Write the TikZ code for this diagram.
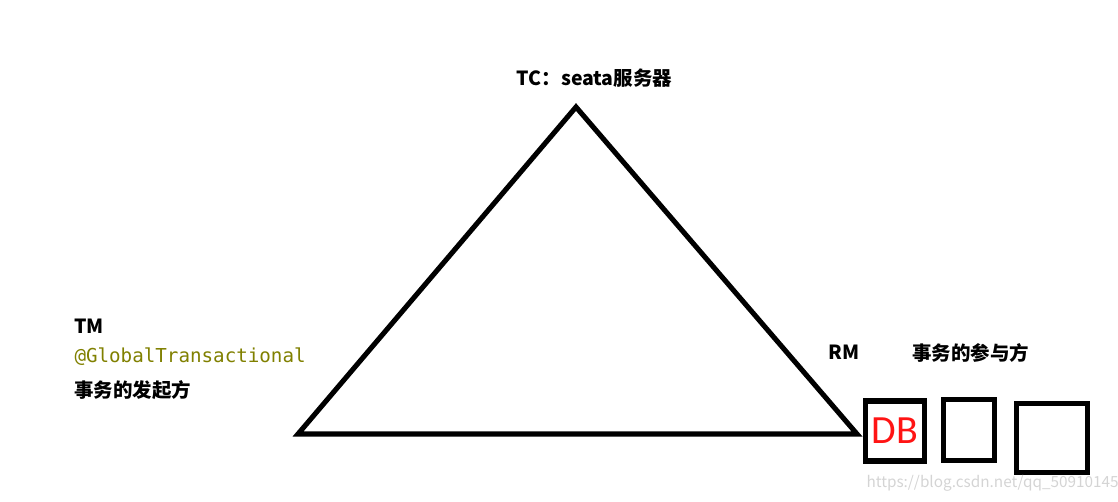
\documentclass[tikz,border=0pt]{standalone}
\usepackage{fontspec}
\setmainfont{Noto Sans CJK SC}
\newfontfamily\codefont{DejaVu Sans Mono}
\newfontfamily\dbfont{Carlito}
\definecolor{annotcol}{RGB}{128,128,0}
\definecolor{dbred}{RGB}{255,20,20}
\definecolor{markgray}{RGB}{212,212,212}

\tikzset{every picture/.style={line width=0.75pt}}
\tikzset{
	lbl/.style={inner sep=0pt, font=\fontsize{14.6pt}{17pt}\selectfont\bfseries},
	rmbox/.style={draw, line width=4pt, inner sep=0pt},
}

\begin{document}
\begin{tikzpicture}[x=0.75pt,y=0.75pt,yscale=-1,xscale=1]
	\useasboundingbox (0,0) rectangle (1118,501);

	%Triangle corners
	\coordinate (tc) at (576,107);
	\coordinate (tm) at (298,434);
	\coordinate (rm) at (857,434);
	%Shape: Triangle
	\draw [line width=3.8pt, line join=miter] (tc) -- (rm) -- (tm) -- cycle ;

	%Boxes of RM
	\node [rmbox, minimum width=44pt, minimum height=45pt] (db1) at (895,431) {};
	\node [rmbox, minimum width=38pt, minimum height=45.5pt] (db2) at (969,430) {};
	\node [rmbox, minimum width=53pt, minimum height=52pt] (db3) at (1052,438) {};

	% Text Node
	\node [lbl] (tclbl) at (594.5,78) {TC：seata服务器};
	% Text Node
	\node [lbl, anchor=west] (tmlbl) at (74,326) {TM};
	% Text Node
	\node [anchor=west, inner sep=0pt, text=annotcol, font=\codefont\fontsize{14.4pt}{17pt}\selectfont] (annot) at (74,357) {@GlobalTransactional};
	% Text Node
	\node [lbl, anchor=west] (tmdesc) at (74,390) {事务的发起方};
	% Text Node
	\node [lbl, anchor=west] (rmlbl) at (828,352) {RM};
	% Text Node
	\node [lbl, anchor=west] (rmdesc) at (912,353) {事务的参与方};
	% Text Node
	\node [inner sep=0pt, text=dbred, font=\dbfont\fontsize{30pt}{32pt}\selectfont] (dblbl) at (db1) {DB};
	% Text Node
	\node [anchor=west, inner sep=0pt, text=markgray, font=\fontsize{11.5pt}{13pt}\selectfont] (wmark) at (866,483) {https://blog.csdn.net/qq\_50910145};

\end{tikzpicture}
\end{document}
